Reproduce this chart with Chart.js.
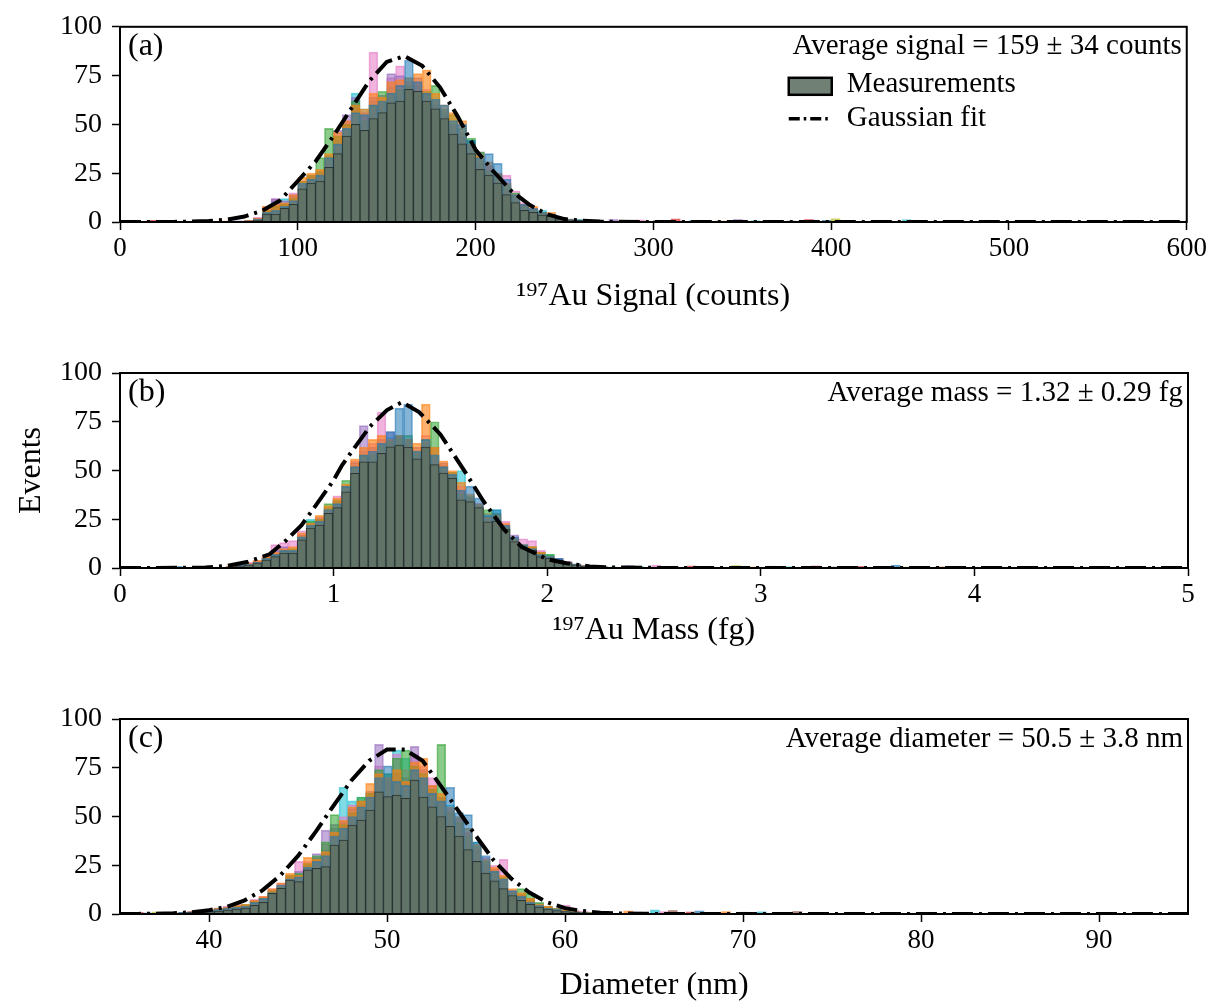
<!DOCTYPE html>
<html>
<head>
<meta charset="utf-8">
<script src="https://cdn.jsdelivr.net/npm/chart.js@4.4.1/dist/chart.umd.min.js"></script>
<style>
  body { margin: 0; background: #fff; }
  #wrap { position: relative; width: 1210px; height: 1003px; background: #fff; }
  canvas { position: absolute; left: 0; }
</style>
</head>
<body>
<div id="wrap">
  <canvas id="chartA" width="1210" height="320" style="top:0px"></canvas>
  <canvas id="chartB" width="1210" height="340" style="top:320px"></canvas>
  <canvas id="chartC" width="1210" height="343" style="top:660px"></canvas>
</div>
<script>
// ---- panel (a): 197Au signal, bins of 5 counts starting at bin index 12 (60 counts)
const signalBinWidth = 5;
const signalFirstBin = 12;
const signalMeasured = [0.3,0.3,0.5,1,4,4,7,9,17,20,21,28,35,44,50,47,53,56,61,62,68,67,62,58,53,45,40,35,27,24,20,14,10,6,5,3.5,3,1.6,1,0.8,0.5,0.4,0.3];
const signalRun1 = [0.5,0,0.6,1.5,5,6,8,11,20,22,24,33,40,48,56,55,60,62,66,70,83,72,66,63,60,52,50,42,33,35,30,22,14,9,7,5,4,2,1.5,1.2,0.8,0.5,0.3];
const signalRun2 = [0.3,0.4,0.8,2,8,9,10,14,23,25,27,35,46,52,60,58,66,64,72,73,74,76,78,66,60,56,52,40,34,31,25,20,14,9,8,5,5,2.5,1.6,1,0.5,0.4,0.5];
const signalRun3 = [0.4,0.2,0.5,1.5,6,8,9,12,21,24,33,48,44,50,62,52,60,67,66,68,70,66,67,70,58,55,48,43,36,26,24,19,15,8,6,5,3,2,1.3,1.1,0.6,0.3,0.2];
const signalRun4 = [0.3,0.6,0.7,2,6,12,11,14,19,24,26,32,47,55,64,56,64,65,76,75,72,74,66,60,55,50,43,40,31,29,22,17,14,9,6,4,3.5,2,1.2,1,0.7,0.2,0.4];
const signalRun5 = [0.6,0.3,0.8,2.5,8,12,9,15,21,23,24,30,40,52,58,54,87,62,74,80,70,72,68,62,57,49,46,39,36,28,25,24,16,10,7,5,3,2.3,1.5,0.9,0.6,0.5,0.3];
const signalRun6 = [0.2,0.5,0.6,1.8,5,11,12,13,20,23,25,34,42,50,66,58,62,60,69,66,74,70,64,60,56,47,44,42,30,27,23,18,12,9,7,6,4,1.8,1.2,1.3,0.5,0.4,0.3];
const signalTailBins = [3,5,8,11,55,57,58,60,62,64,65,67,69,71,73,75,77,79,80,82,85,88,92,98,104,112];
const signalTailValues = [0.8,0.4,0.3,0.5,1.2,0.8,1,0.7,1.5,0.6,0.9,0.5,1.3,0.6,0.8,0.5,1.2,0.9,1.6,0.4,0.5,1.1,0.3,0.3,0.3,0.3];
const signalFitX = [0,30,40,50,60,70,80,90,100,110,120,130,140,150,160,170,180,190,200,210,220,230,240,250,260,270,280,300,600];
const signalFitY = [0,0.05,0.2,0.5,1.2,2.8,5.8,11,21,31,44,58,72,82,85,80,69,54,37,26,16,9,4,1.5,0.6,0.2,0.1,0,0];
const signalTicks = [0, 100, 200, 300, 400, 500, 600];

// ---- panel (b): 197Au mass, bins of 0.0415 fg starting at bin index 12
const massBinWidth = 0.0415;
const massFirstBin = 12;
const massMeasured = [0.5,1,1.5,2.5,4,5.8,7.6,7.6,14.4,20.5,22,28,31,39,48.5,54.5,54.5,58.8,62.2,63,62,56,62,53,48.7,46,35,34,31,23.7,24,20,13.5,10,9,5.8,5,4,2.5,1.6,1,0.8,0.5,0.4];
const massRun1 = [0.5,1.5,2,3,5,7,9,9,16,22,24,30,33,42,52,58,60,64,70,82,84,60,66,58,52,48,40,42,36,27,30,22,16,12,10,7,6,5,3,2,1.2,1,0.6,0.5];
const massRun2 = [0.8,1.2,2.5,4,6,8,10,11,18,23,27,32,36,43,56,62,66,68,66,68,66,64,84,62,55,50,44,38,33,26,27,23,15,12,11,8,6,4,3,2,1.5,0.9,0.7,0.3];
const massRun3 = [0.6,1,1.8,3,5,7,9,10,16,24,25,33,35,45,52,58,58,63,65,68,68,60,66,75,52,49,38,37,32,30,28,21,15,12,11,8,7,4,2.8,1.8,1,0.6,0.4,0.5];
const massRun4 = [1,1.5,2,3.5,5,9,11,9,17,22,26,30,34,42,54,73,62,66,70,67,66,62,64,58,54,48,40,36,33,26,26,22,17,11,10,6,6,5,2.8,1.8,1.2,0.9,0.6,0.4];
const massRun5 = [0.7,1.3,3,3.8,6,12,13,14,19,23,25,30,37,42,55,60,64,80,66,64,64,60,68,62,53,49,42,36,33,28,28,24,16,15,14,9,6,5,3.5,2.2,1.3,1,0.5,0.4];
const massRun6 = [0.5,1.2,2,3.2,4.5,7,9,8.5,17,25,24,31,34,41,52,57,59,64,67,66,66,58,63,57,52,47,50,36,32,26,30,21,15,11,10,7,7,4.5,3,2,1,0.8,0.7,0.5];
const massTailBins = [4,6,8,10,57,58,60,62,64,66,69,71,73,75,78,80,83,87,88,92,99,106,116];
const massTailValues = [0.5,0.8,0.3,0.4,1.2,0.8,1.4,0.6,1,0.7,1.2,0.5,0.9,0.6,1.1,0.5,0.8,1.4,0.5,0.6,0.4,0.3,0.3];
const massFitX = [0,0.3,0.4,0.5,0.6,0.7,0.78,0.85,0.92,1.0,1.04,1.1,1.17,1.25,1.32,1.4,1.5,1.62,1.7,1.74,1.8,1.88,2.0,2.09,2.2,2.3,2.5,5];
const massFitY = [0,0.1,0.3,1,3.2,7,14.4,22,32.6,45,52.8,62,72.5,81,85,80,68.5,48.5,34.5,28.5,19.5,10.9,4.5,2.4,0.8,0.3,0.05,0];
const massTicks = [0, 1, 2, 3, 4, 5];

// ---- panel (c): diameter, bins of 0.5 nm from 35.3 nm, main bins start at index 4
const diamOrigin = 35.3;
const diamBinWidth = 0.5;
const diamFirstBin = 4;
const diamMeasured = [0.3,0.3,0.5,0.8,1,1.2,1.5,2,2.5,3,4.5,6,10.6,13.2,17.4,16.6,22.6,23.4,24.3,35.4,37.9,45.6,48.2,53.3,62.7,60.2,61,59.3,68.7,60,55,50,45,40,33,27,21,17,13,9.5,7,5,3.5,2.5,1.8,1.2,0.8,0.6,0.4,0.3,0.3];
const diamRun1 = [0.5,0.3,0.8,1,1.5,2,2.5,3,3.5,4,6,8,11,15,18,19,24,27,30,40,44,50,55,60,70,76,68,66,74,70,62,58,65,52,51,37,30,22,18,12,9,6,4.5,3,2.5,1.5,1,0.8,0.6,0.4,0.3];
const diamRun2 = [0.3,0.6,0.5,1.2,1.8,2.5,3,3.5,4.5,5,7,9,13,16,21,20,29,28,32,42,48,55,58,67,72,70,74,68,78,80,66,62,55,50,44,36,28,24,20,13,11,8,5,4,2.8,2.2,1.2,1,0.7,0.5,0.4];
const diamRun3 = [0.4,0.5,0.7,1.1,1.6,2.2,2.8,3.2,4,5,6.5,8,12,14,20,21,26,30,37,51,46,52,60,62,74,72,80,84,76,72,64,87,52,47,40,35,27,22,19,11,13,10.6,6,4,3,2,1.4,0.9,0.8,0.5,0.3];
const diamRun4 = [0.6,0.4,0.9,1.3,1.4,2.4,2.6,3.5,3.8,4.5,7,8.5,12,15,19,22,25,31,43,46,47,54,56,63,87,70,72,70,86,74,66,60,54,49,42,33,25,23,17,12,10,7,4.5,3.5,2.5,1.8,1.3,0.9,0.6,0.5,0.3];
const diamRun5 = [1,0.5,1,1.4,2,2.6,3.2,4,5,4.8,7.5,9,13,16,20,27,27,29,36,44,50,56,58,60,76,68,82,74,82,76,70,58,52,47,41,34,29,25,28,12,10,8,5.5,3.8,3,4.6,2,1.5,1,0.8,0.4];
const diamRun6 = [0.3,0.4,0.6,1,1.7,2.2,3,3,4.2,4.5,6,8,11,14,18,20,25,28,33,44,65,58,60,62,72,72,84,80,76,70,64,60,56,50,44,37,26,20,18,11,9,6,4,3,2.2,1.5,1,0.7,0.5,0.4,0.3];
const diamTailBins = [1,2,3,56,57,59,60,61,63,64,65,67,69,71,73,75,78,82,88,95,105];
const diamTailValues = [0.8,0.5,1,1.5,1,2,1.2,1.8,1,1.5,0.8,1.2,0.9,1.1,0.7,1.3,0.6,0.5,0.4,0.3,0.3];
const diamFitX = [35,36,37,38,39,40,41,42,43,44,45,46,47,48,49,50,51,52,53,54,55,56,57,58,59,60,61,62,63,64,66,95];
const diamFitY = [0,0.05,0.15,0.4,0.9,1.9,3.7,7,12.1,19.7,29.8,42.2,55.6,68.5,78.6,84.3,84.3,78.6,66,53,40,27.5,18,11,6,3,1.5,0.7,0.3,0.1,0,0];
const diamTicks = [40, 50, 60, 70, 80, 90];

const yTicks = [0, 25, 50, 75, 100];

// ---- styles
const serif = '"Liberation Serif", "Times New Roman", serif';
const measuredFill = 'rgba(96,114,101,0.9)';
const measuredEdge = 'rgba(35,40,36,0.8)';
const runFills = ['rgba(31,119,180,0.55)', 'rgba(255,127,14,0.6)', 'rgba(44,160,44,0.55)',
                  'rgba(148,103,189,0.55)', 'rgba(227,119,194,0.55)', 'rgba(23,190,207,0.55)'];
const runEdges = ['rgba(31,119,180,0.6)', 'rgba(255,127,14,0.6)', 'rgba(44,160,44,0.6)',
                  'rgba(148,103,189,0.6)', 'rgba(227,119,194,0.6)', 'rgba(23,190,207,0.6)'];
const tailFills = ['rgba(214,39,40,0.7)', 'rgba(31,119,180,0.7)', 'rgba(188,189,34,0.7)', 'rgba(255,127,14,0.7)',
                   'rgba(148,103,189,0.7)', 'rgba(23,190,207,0.7)', 'rgba(227,119,194,0.7)', 'rgba(140,86,75,0.7)'];

Chart.defaults.font.family = serif;
Chart.defaults.color = '#000';

function binData(origin, width, first, values) {
  return values.map((v, i) => ({ x: origin + width * (first + i + 0.5), y: v }));
}
function tailData(origin, width, bins, values) {
  return bins.map((b, i) => ({ x: origin + width * (b + 0.5), y: values[i] }));
}
function fitData(xs, ys) {
  return xs.map((x, i) => ({ x: x, y: ys[i] }));
}

// frame, panel letter, average text and (for panel a) the legend
const panelText = {
  id: 'panelText',
  afterDraw(chart, args, opts) {
    const ctx = chart.ctx;
    const a = chart.chartArea;
    ctx.save();
    ctx.strokeStyle = '#000';
    ctx.lineWidth = 2;
    ctx.strokeRect(a.left, a.top, a.right - a.left, a.bottom - a.top);
    ctx.fillStyle = '#000';
    ctx.textBaseline = 'middle';
    ctx.font = '32px ' + serif;
    ctx.textAlign = 'left';
    ctx.fillText(opts.label, a.left + 8, a.top + 20);
    ctx.font = '29px ' + serif;
    ctx.textAlign = 'right';
    ctx.fillText(opts.note, a.right - 5, a.top + 20);
    if (opts.legend) {
      const lx = a.right - 398;
      ctx.fillStyle = measuredFill;
      ctx.fillRect(lx, a.top + 51, 43, 17);
      ctx.lineWidth = 2.5;
      ctx.strokeRect(lx, a.top + 51, 43, 17);
      ctx.beginPath();
      ctx.setLineDash([11, 4, 2.5, 4]);
      ctx.lineWidth = 3.5;
      ctx.moveTo(lx, a.top + 92);
      ctx.lineTo(lx + 43, a.top + 92);
      ctx.stroke();
      ctx.setLineDash([]);
      ctx.fillStyle = '#000';
      ctx.textAlign = 'left';
      ctx.fillText('Measurements', lx + 58, a.top + 58);
      ctx.fillText('Gaussian fit', lx + 58, a.top + 92);
    }
    ctx.restore();
  }
};

function makePanel(id, p) {
  const datasets = [{
    type: 'line',
    data: p.fit,
    borderColor: '#000',
    borderWidth: 4,
    borderDash: [21, 6, 3, 6],
    pointRadius: 0,
    tension: 0,
    order: 0
  }, {
    type: 'bar',
    data: p.measured,
    backgroundColor: measuredFill,
    borderColor: measuredEdge,
    borderWidth: 1,
    order: 1
  }];
  p.runs.forEach((r, i) => {
    datasets.push({ type: 'bar', data: r, backgroundColor: runFills[i], borderColor: runEdges[i], borderWidth: 1, order: 2 });
  });
  datasets.push({
    type: 'bar',
    data: p.tail,
    backgroundColor: p.tail.map((d, i) => tailFills[i % tailFills.length]),
    borderWidth: 0,
    order: 2
  });

  return new Chart(document.getElementById(id), {
    type: 'bar',
    data: { datasets: datasets },
    options: {
      responsive: false,
      animation: false,
      events: [],
      devicePixelRatio: 1,
      layout: { padding: { left: 0, right: 22, top: p.padTop, bottom: 0 } },
      datasets: { bar: { grouped: false, barPercentage: 1, categoryPercentage: 1 } },
      plugins: {
        legend: { display: false },
        tooltip: { enabled: false },
        panelText: { label: p.label, note: p.note, legend: p.legend }
      },
      scales: {
        x: {
          type: 'linear',
          min: p.xMin,
          max: p.xMax,
          offset: false,
          afterBuildTicks: (s) => { s.ticks = p.xTicks.map(v => ({ value: v })); },
          ticks: { font: { size: 27 }, color: '#000', padding: 3, maxRotation: 0, autoSkip: false },
          grid: { display: true, drawOnChartArea: false, drawTicks: true, tickLength: 8, tickWidth: 1.5, tickColor: '#000', offset: false },
          border: { display: true, color: '#000', width: 2 },
          title: { display: true, text: p.xTitle, font: { size: 32, lineHeight: 1.1 }, color: '#000', padding: { top: 0, bottom: p.titlePad } },
          afterFit: (s) => { s.height = p.xHeight; }
        },
        y: {
          min: 0,
          max: 100,
          afterBuildTicks: (s) => { s.ticks = yTicks.map(v => ({ value: v })); },
          ticks: { font: { size: 28 }, color: '#000', padding: 10 },
          grid: { display: true, drawOnChartArea: false, drawTicks: true, tickLength: 8, tickWidth: 1.5, tickColor: '#000' },
          border: { display: true, color: '#000', width: 2 },
          title: { display: !!p.yTitle, text: p.yTitle || '', font: { size: 32 }, color: '#000', padding: { top: 12, bottom: 0 } },
          afterFit: (s) => { s.width = 120; }
        }
      }
    },
    plugins: [panelText]
  });
}

makePanel('chartA', {
  label: '(a)', note: 'Average signal = 159 \u00b1 34 counts', legend: true,
  xMin: 0, xMax: 600, xTicks: signalTicks, xTitle: '\u00b9\u2079\u2077Au Signal (counts)',
  padTop: 26, xHeight: 98, titlePad: 6,
  measured: binData(0, signalBinWidth, signalFirstBin, signalMeasured),
  runs: [signalRun1, signalRun2, signalRun3, signalRun4, signalRun5, signalRun6].map(r => binData(0, signalBinWidth, signalFirstBin, r)),
  tail: tailData(0, signalBinWidth, signalTailBins, signalTailValues),
  fit: fitData(signalFitX, signalFitY)
});

makePanel('chartB', {
  label: '(b)', note: 'Average mass = 1.32 \u00b1 0.29 fg', legend: false,
  xMin: 0, xMax: 5, xTicks: massTicks, xTitle: '\u00b9\u2079\u2077Au Mass (fg)', yTitle: 'Events',
  padTop: 53, xHeight: 92, titlePad: 12,
  measured: binData(0, massBinWidth, massFirstBin, massMeasured),
  runs: [massRun1, massRun2, massRun3, massRun4, massRun5, massRun6].map(r => binData(0, massBinWidth, massFirstBin, r)),
  tail: tailData(0, massBinWidth, massTailBins, massTailValues),
  fit: fitData(massFitX, massFitY)
});

makePanel('chartC', {
  label: '(c)', note: 'Average diameter = 50.5 \u00b1 3.8 nm', legend: false,
  xMin: 35, xMax: 95, xTicks: diamTicks, xTitle: 'Diameter (nm)',
  padTop: 59, xHeight: 89, titlePad: 0,
  measured: binData(diamOrigin, diamBinWidth, diamFirstBin, diamMeasured),
  runs: [diamRun1, diamRun2, diamRun3, diamRun4, diamRun5, diamRun6].map(r => binData(diamOrigin, diamBinWidth, diamFirstBin, r)),
  tail: tailData(diamOrigin, diamBinWidth, diamTailBins, diamTailValues),
  fit: fitData(diamFitX, diamFitY)
});
</script>
</body>
</html>
